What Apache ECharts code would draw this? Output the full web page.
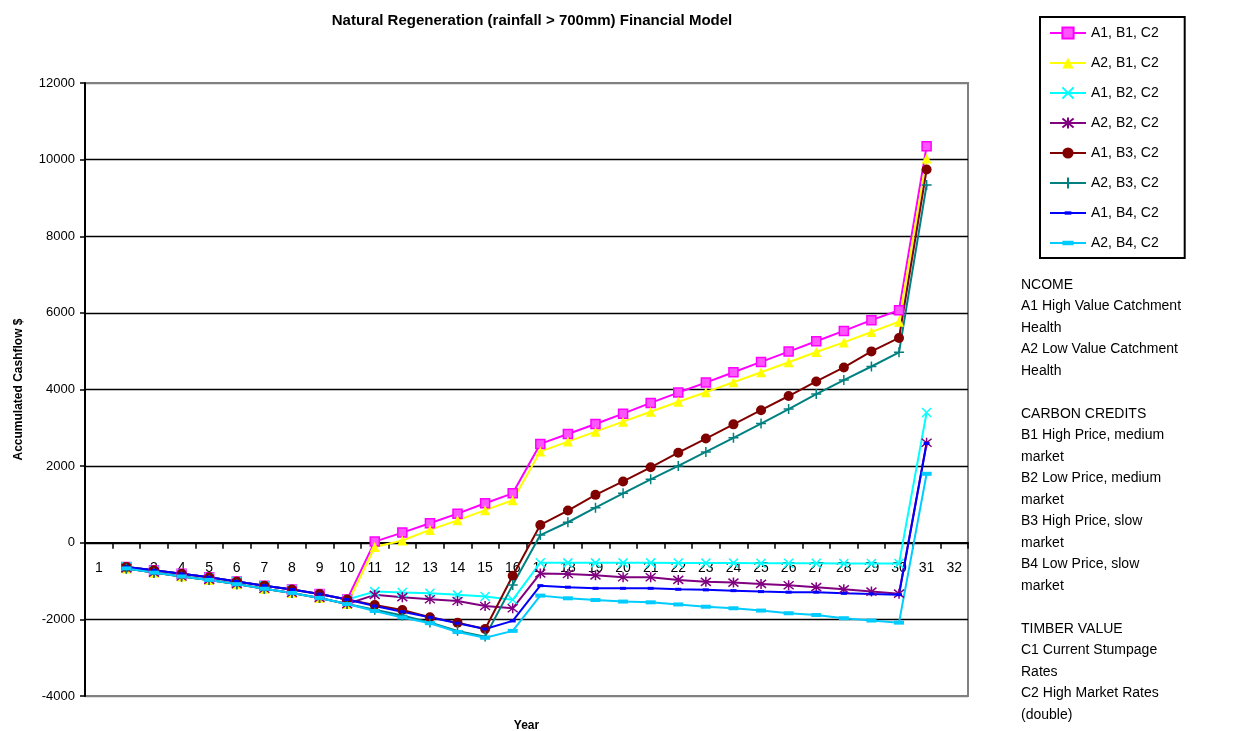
<!DOCTYPE html>
<html>
<head>
<meta charset="utf-8">
<script src="https://cdn.jsdelivr.net/npm/echarts@6/dist/echarts.min.js"></script>
<style>
html,body{margin:0;padding:0;background:#fff;}
#chart{width:1238px;height:731px;}
</style>
</head>
<body>
<div id="chart"></div>
<script>
// Category labels (years)
var years = ['1','2','3','4','5','6','7','8','9','10','11','12','13','14','15','16','17','18','19','20','21','22','23','24','25','26','27','28','29','30','31','32'];

// Series values for years 2..31
var a1b1 = [-630,-720,-810,-900,-1010,-1120,-1220,-1340,-1480, 30,265,510,760,1030,1290, 2580,2840,3100,3370,3650,3920,4180,4450,4720,4990,5260,5530,5810,6070, 10350];
var a2b1 = [-670,-780,-880,-970,-1080,-1200,-1310,-1440,-1600, -110,60,335,585,850,1110, 2380,2640,2900,3160,3420,3680,3930,4190,4450,4710,4980,5230,5500,5770, 10030];
var a1b2 = [-630,-720,-810,-900,-1010,-1120,-1220,-1340,-1480, -1275,-1300,-1320,-1360,-1405,-1490, -520,-525,-525,-525,-525,-530,-530,-530,-535,-535,-535,-540,-540,-540, 3400];
var a2b2 = [-670,-780,-880,-970,-1080,-1200,-1310,-1440,-1600, -1360,-1420,-1475,-1520,-1650,-1710, -800,-815,-850,-900,-900,-970,-1020,-1040,-1075,-1110,-1160,-1215,-1275,-1330, 2610];
var a1b3 = [-630,-720,-810,-900,-1010,-1120,-1220,-1340,-1480, -1625,-1755,-1945,-2085,-2250, -860, 465,840,1250,1600,1970,2350,2720,3090,3460,3830,4210,4575,4995,5345, 9740];
var a2b3 = [-670,-780,-880,-970,-1080,-1200,-1310,-1440,-1600, -1750,-1900,-2080,-2300,-2450, -1100, 200,535,915,1290,1655,2005,2370,2740,3110,3490,3880,4245,4600,4970, 9340];
var a1b4 = [-630,-720,-810,-900,-1010,-1120,-1220,-1340,-1480, -1650,-1800,-1945,-2100,-2250, -2040, -1120,-1160,-1190,-1190,-1190,-1215,-1230,-1250,-1275,-1290,-1290,-1320,-1335,-1355, 2590];
var a2b4 = [-670,-780,-880,-970,-1080,-1200,-1310,-1440,-1600, -1780,-1950,-2100,-2330,-2480, -2300, -1380,-1450,-1495,-1535,-1555,-1610,-1670,-1710,-1770,-1840,-1885,-1970,-2030,-2085, 1800];

var seriesNames = ['A1, B1, C2','A2, B1, C2','A1, B2, C2','A2, B2, C2','A1, B3, C2','A2, B3, C2','A1, B4, C2','A2, B4, C2'];
var seriesValues = [a1b1,a2b1,a1b2,a2b2,a1b3,a2b3,a1b4,a2b4];
var seriesColors = ['#FF00FF','#FFFF00','#00FFFF','#800080','#800000','#008080','#0000FF','#00CCFF'];

var yTicks = [-4000,-2000,0,2000,4000,6000,8000,10000,12000];

var noteLines = ['NCOME','A1 High Value Catchment','Health','A2 Low Value Catchment','Health','',
  'CARBON CREDITS','B1 High Price, medium','market','B2 Low Price, medium','market','B3 High Price, slow','market','B4 Low Price, slow','market','',
  'TIMBER VALUE','C1 Current Stumpage','Rates','C2 High Market Rates','(double)'];

var FONT = 'Liberation Sans, Arial, sans-serif';

var symbols = [
  {symbol:'rect', size:9, item:{color:'#FF55FF', borderColor:'#FF00FF', borderWidth:1.5}},
  {symbol:'triangle', size:10, item:{color:'#FFFF00'}},
  {symbol:'path://M0,0L10,10M10,0L0,10', size:9, item:{color:'rgba(0,0,0,0)', borderColor:'#00FFFF', borderWidth:1.5}},
  {symbol:'path://M1,1L9,9M9,1L1,9M5,0L5,10', size:10, item:{color:'rgba(0,0,0,0)', borderColor:'#800080', borderWidth:1.5}},
  {symbol:'circle', size:10, item:{color:'#800000'}},
  {symbol:'path://M5,0L5,10M0,5L10,5', size:10, item:{color:'rgba(0,0,0,0)', borderColor:'#008080', borderWidth:1.5}},
  {symbol:'path://M0,0M10,10M2,3.5L8,3.5L8,6.5L2,6.5Z', size:10, item:{color:'#0000FF'}},
  {symbol:'path://M0,0M10,10M0,3L10,3L10,7L0,7Z', size:10, item:{color:'#00CCFF'}}
];

function pad(vals){ return [null].concat(vals).concat([null]); }

var series = seriesNames.map(function(n,i){
  return {
    name:n, type:'line', data:pad(seriesValues[i]),
    symbol:symbols[i].symbol, symbolSize:symbols[i].size,
    showAllSymbol:true,
    itemStyle:symbols[i].item,
    lineStyle:{color:seriesColors[i], width:2},
    emphasis:{disabled:true},
    connectNulls:false
  };
});

var gridColors = yTicks.map(function(v,i){ return (i===0||i===yTicks.length-1)?'#808080':'#000000'; });

// zero-line offset of the x axis from the grid bottom (grid 83..696, range -4000..12000)
var gridTop = 83, gridBottomPx = 696;
var zeroOffset = -(gridBottomPx - (gridTop + (gridBottomPx - gridTop) * 12 / 16));

var chart = echarts.init(document.getElementById('chart'), null, {renderer:'canvas'});
chart.setOption({
  animation:false,
  backgroundColor:'#ffffff',
  textStyle:{fontFamily:FONT},
  title:{
    text:'Natural Regeneration (rainfall > 700mm) Financial Model',
    left:527, top:8, textAlign:'center',
    textStyle:{fontFamily:FONT, fontSize:15, fontWeight:'bold', color:'#000'}
  },
  legend:{
    orient:'vertical', left:1040, top:17,
    padding:[9,26,8,9],
    itemWidth:36, itemHeight:14, itemGap:16,
    borderColor:'#000', borderWidth:2,
    textStyle:{fontFamily:FONT, fontSize:14, color:'#000'},
    data:seriesNames
  },
  grid:{left:85, right:270, top:gridTop, bottom:731-gridBottomPx, show:true, borderColor:'#808080', borderWidth:2, outerBoundsMode:'none', containLabel:false},
  xAxis:{
    type:'category', data:years, boundaryGap:true,
    offset:zeroOffset,
    name:'Year', nameLocation:'middle', nameGap:177,
    nameTextStyle:{fontFamily:FONT, fontSize:12, fontWeight:'bold', color:'#000'},
    axisLine:{show:true, onZero:false, lineStyle:{color:'#000', width:2}},
    axisTick:{show:true, length:6, lineStyle:{color:'#000', width:1.5}},
    axisLabel:{fontFamily:FONT, fontSize:14, color:'#000', margin:18, interval:0},
    splitLine:{show:false}
  },
  yAxis:{
    type:'value', min:-4000, max:12000, interval:2000,
    name:'Accumulated Cashflow $', nameLocation:'middle', nameGap:60, nameRotate:90,
    nameTextStyle:{fontFamily:FONT, fontSize:12, fontWeight:'bold', color:'#000'},
    axisLine:{show:true, lineStyle:{color:'#000', width:2}},
    axisTick:{show:true, length:5, lineStyle:{color:'#000', width:1.5}},
    axisLabel:{fontFamily:FONT, fontSize:13, color:'#000', margin:10, formatter:function(v){return String(v);}},
    splitLine:{show:true, lineStyle:{color:gridColors, width:1.3}}
  },
  graphic:[{
    type:'text', left:1021, top:274,
    style:{text:noteLines.join('\n'), fontFamily:FONT, fontSize:14, lineHeight:21.5, fill:'#000'}
  }],
  series:series
});
</script>
</body>
</html>
